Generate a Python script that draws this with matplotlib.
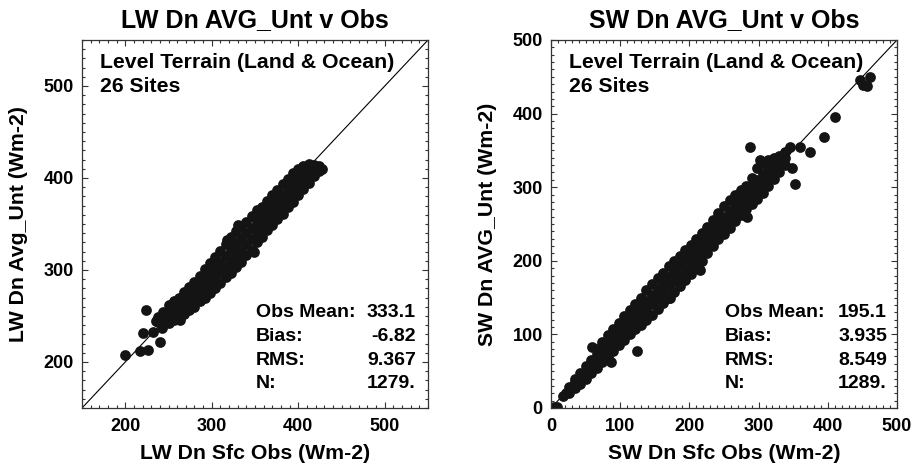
import matplotlib
matplotlib.use('Agg')
import matplotlib.pyplot as plt
from matplotlib.ticker import MultipleLocator

plt.rcParams.update({
    'font.family': ['Liberation Sans', 'DejaVu Sans'],
    'font.weight': 'bold',
    'axes.labelweight': 'bold',
    'axes.titleweight': 'bold',
})

DOT = '#141414'

# LW panel: surface obs vs AVG_Unt (one band column per line)
lw_obs = [200, 217, 224, 226, 221, 232, 240, 243, 236, 349, 263, 318, 330,
          238, 238,
          244, 244, 244,
          250, 250, 250, 250,
          256, 256, 256, 256,
          262, 262, 262, 262,
          268, 268, 268, 268,
          274, 274, 274, 274,
          280, 280, 280, 280,
          286, 286, 286, 286,
          292, 292, 292, 292,
          298, 298, 298, 298,
          304, 304, 304, 304,
          310, 310, 310, 310,
          316, 316, 316, 316,
          322, 322, 322, 322,
          328, 328, 328, 328,
          334, 334, 334, 334,
          340, 340, 340, 340,
          346, 346, 346, 346,
          352, 352, 352, 352,
          358, 358, 358, 358,
          364, 364, 364, 364,
          370, 370, 370, 370,
          376, 376, 376, 376,
          382, 382, 382, 382,
          388, 388, 388, 388,
          394, 394, 394, 394,
          400, 400, 400, 400,
          406, 406, 406, 406,
          412, 412, 412, 412,
          418, 418, 418,
          424, 424,
          428]
lw_mod = [208, 212, 256, 213, 231, 233, 222, 237, 245, 320, 246, 333, 349,
          243, 249,
          241, 248, 254,
          242, 250, 257, 262,
          246, 253, 260, 266,
          247, 256, 264, 270,
          252, 260, 268, 276,
          256, 265, 273, 281,
          260, 270, 279, 287,
          266, 275, 285, 294,
          270, 281, 291, 301,
          275, 286, 297, 308,
          280, 292, 303, 314,
          286, 298, 309, 321,
          292, 303, 315, 328,
          297, 309, 322, 336,
          303, 315, 328, 342,
          309, 321, 334, 348,
          316, 328, 340, 352,
          322, 334, 346, 359,
          330, 341, 353, 365,
          336, 347, 358, 369,
          343, 353, 364, 375,
          349, 360, 370, 382,
          355, 366, 376, 387,
          361, 372, 382, 393,
          368, 378, 388, 399,
          374, 384, 394, 405,
          381, 390, 399, 410,
          388, 396, 404, 413,
          395, 402, 409, 415,
          402, 408, 414,
          408, 413,
          410]

# SW panel
sw_obs = [4, 8, 18, 22, 59, 87, 124, 172, 216, 283, 288, 345, 360, 348, 353,
          374, 394, 411, 447, 461, 451, 457, 302, 317,
          26, 26,
          34, 34, 34,
          42, 42, 42,
          50, 50, 50,
          58, 58, 58,
          66, 66, 66, 66,
          74, 74, 74, 74,
          82, 82, 82, 82,
          90, 90, 90, 90,
          98, 98, 98, 98,
          106, 106, 106, 106,
          114, 114, 114, 114,
          122, 122, 122, 122,
          130, 130, 130, 130,
          138, 138, 138, 138,
          146, 146, 146, 146,
          154, 154, 154, 154,
          162, 162, 162, 162,
          170, 170, 170, 170,
          178, 178, 178, 178,
          186, 186, 186, 186,
          194, 194, 194, 194,
          202, 202, 202, 202,
          210, 210, 210, 210,
          218, 218, 218, 218,
          226, 226, 226, 226,
          234, 234, 234, 234,
          242, 242, 242, 242,
          250, 250, 250, 250,
          258, 258, 258, 258,
          266, 266, 266, 266,
          274, 274, 274, 274,
          282, 282, 282, 282,
          290, 290, 290, 290,
          298, 298, 298, 298,
          306, 306, 306, 306,
          314, 314, 314, 314,
          322, 322, 322, 322,
          330, 330, 330,
          338, 338, 338]
sw_mod = [1, 2, 16, 20, 83, 62, 77, 149, 188, 260, 354, 355, 354, 326, 305,
          348, 368, 395, 446, 450, 439, 437, 337, 336,
          20, 28,
          27, 35, 40,
          33, 41, 48,
          40, 48, 57,
          47, 56, 65,
          54, 63, 73, 80,
          62, 71, 81, 90,
          69, 79, 89, 99,
          77, 87, 97, 107,
          85, 95, 106, 116,
          93, 103, 114, 125,
          100, 111, 122, 133,
          107, 119, 130, 141,
          113, 125, 138, 150,
          120, 133, 146, 160,
          127, 141, 154, 168,
          135, 149, 162, 176,
          142, 156, 170, 184,
          150, 164, 178, 193,
          158, 172, 186, 200,
          166, 180, 194, 207,
          174, 188, 202, 214,
          182, 196, 209, 222,
          191, 204, 217, 230,
          200, 212, 225, 238,
          210, 221, 233, 246,
          220, 230, 242, 255,
          229, 239, 251, 265,
          237, 248, 260, 274,
          245, 256, 268, 282,
          254, 265, 277, 290,
          262, 274, 286, 296,
          270, 282, 293, 301,
          277, 290, 302, 313,
          284, 297, 310, 326,
          292, 305, 318, 333,
          302, 314, 326, 337,
          311, 322, 333, 340,
          320, 331, 343,
          330, 340, 348]

stat_names = ['Obs Mean:', 'Bias:', 'RMS:', 'N:']
lw_stats = ['333.1', '-6.82', '9.367', '1279.']
sw_stats = ['195.1', '3.935', '8.549', '1289.']

panels = [
    dict(obs=lw_obs, mod=lw_mod, lim=(150, 550), stats=lw_stats,
         title='LW Dn AVG_Unt v Obs', xlabel='LW Dn Sfc Obs (Wm-2)',
         ylabel='LW Dn Avg_Unt (Wm-2)', left=82, val_x=0.965),
    dict(obs=sw_obs, mod=sw_mod, lim=(0, 500), stats=sw_stats,
         title='SW Dn AVG_Unt v Obs', xlabel='SW Dn Sfc Obs (Wm-2)',
         ylabel='SW Dn AVG_Unt (Wm-2)', left=551, val_x=0.971),
]

W, H = 917, 467
fig = plt.figure(figsize=(W / 100, H / 100), dpi=100)

for p in panels:
    ax = fig.add_axes([p['left'] / W, (H - 408) / H, 346 / W, 368 / H])
    lo, hi = p['lim']
    ax.plot([lo, hi], [lo, hi], color='black', lw=0.8, zorder=1)
    ax.scatter(p['obs'], p['mod'], s=60, c=DOT, linewidths=0, zorder=2)
    ax.set_xlim(lo, hi)
    ax.set_ylim(lo, hi)
    for axis in (ax.xaxis, ax.yaxis):
        axis.set_major_locator(MultipleLocator(100))
        axis.set_minor_locator(MultipleLocator(10))
    ax.tick_params(which='both', direction='in', top=True, right=True,
                   color='#333333', width=0.8, labelsize=13)
    ax.tick_params(which='major', length=4)
    ax.tick_params(which='minor', length=2.2)
    ax.tick_params(axis='y', pad=6)
    ax.tick_params(axis='x', pad=7)
    for s in ax.spines.values():
        s.set_color('#333333')
        s.set_linewidth(0.9)

    ax.set_title(p['title'], fontsize=18, pad=9)
    ax.set_xlabel(p['xlabel'], fontsize=15.3, labelpad=7)
    ax.set_ylabel(p['ylabel'], fontsize=15.3, labelpad=11)

    ax.text(0.052, 0.924, 'Level Terrain (Land & Ocean)', transform=ax.transAxes,
            fontsize=15.3, va='baseline')
    ax.text(0.052, 0.859, '26 Sites', transform=ax.transAxes,
            fontsize=15.3, va='baseline')
    for i, (name, val) in enumerate(zip(stat_names, p['stats'])):
        yy = [0.247, 0.182, 0.117, 0.054][i]
        ax.text(0.502, yy, name, transform=ax.transAxes, fontsize=14, va='baseline')
        ax.text(p['val_x'], yy, val, transform=ax.transAxes, fontsize=14,
                va='baseline', ha='right')

fig.savefig('out.png', dpi=100)
